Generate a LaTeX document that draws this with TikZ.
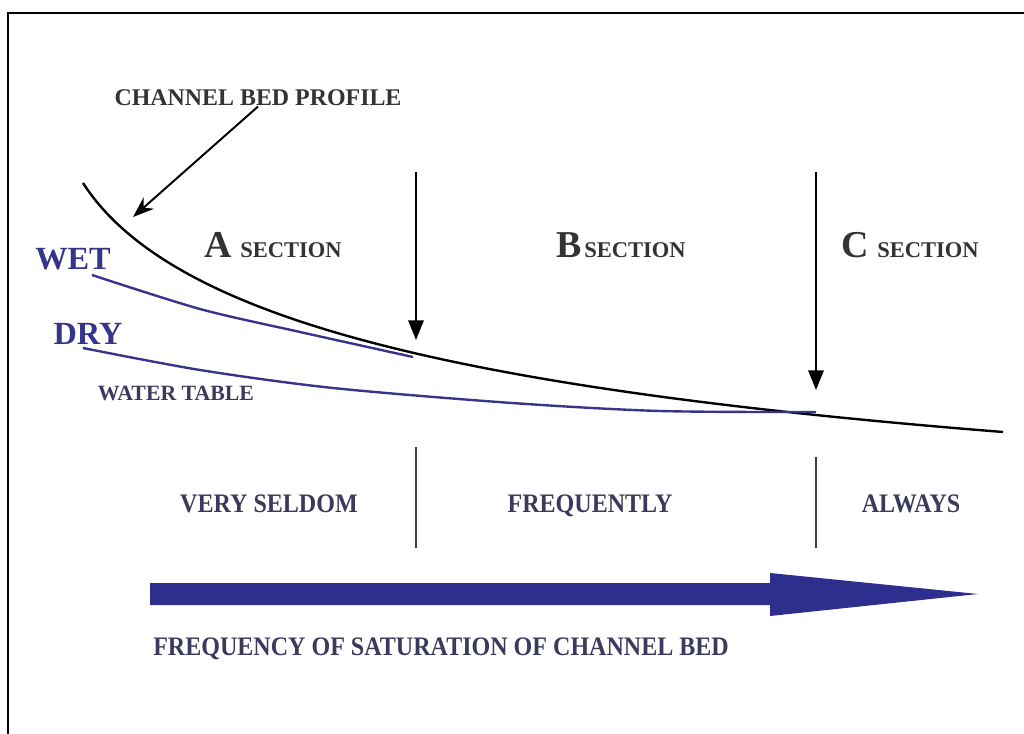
\documentclass[tikz,border=0pt]{standalone}
\usepackage{fontspec}
\setmainfont{Liberation Serif}
\newfontfamily\narrowfont[FakeStretch=0.9]{Liberation Serif}
\usetikzlibrary{arrows.meta,positioning}
\definecolor{ink}{HTML}{333333}
\definecolor{wt}{HTML}{35358A}
\definecolor{navy}{HTML}{2E2E8E}
\definecolor{slate}{HTML}{3A3A5C}
\newcommand{\sectlbl}[2]{{\fontsize{27}{27}\selectfont #1}\hspace{#2}{\fontsize{16}{16}\selectfont SECTION}}
\tikzset{
  lbl/.style={font=\bfseries,text=ink,inner sep=0pt,anchor=base},
  lowlbl/.style={lbl,text=slate,font=\narrowfont\bfseries\fontsize{19}{19}\selectfont},
  wdlbl/.style={lbl,text=wt,font=\bfseries\fontsize{23}{23}\selectfont},
  bed/.style={line width=1.7pt,draw=black},
  wline/.style={line width=1.7pt,draw=wt},
  dn/.style={-{Triangle[length=14pt,width=11pt]},line width=1.4pt},
  tick/.style={line width=1.5pt,draw=slate},
}

\begin{document}
\begin{tikzpicture}[x=0.025cm,y=-0.025cm]
\useasboundingbox (0,0) rectangle (1024,734);
% frame
\draw[line width=1.6pt] (8,734) -- (8,13) -- (1024,13);
% profiles
\draw[bed] (83,183) .. controls (170,318) and (450,388) .. (1003,432);
\draw[wline] plot[smooth] coordinates {(92,275) (200,309) (300,332) (413,357)};
\draw[wline] plot[smooth] coordinates {(83,348) (200,370) (333,388) (512,403) (660,411) (816,412)};
\node[wdlbl] (wet) at (73,270) {WET};
\node[wdlbl] (dry) at (88,345) {DRY};
\node[lbl,text=slate,font=\bfseries\fontsize{15.5}{15.5}\selectfont] (wtab) at (176,400) {WATER TABLE};
% channel bed label
\node[lbl,font=\bfseries\fontsize{17}{17}\selectfont] (cbp) at (258,106) {CHANNEL BED PROFILE};
\coordinate (cbptip) at (133,217);
\draw[dn,-{Stealth[length=15pt,width=11pt]}] (cbp.south) -- (cbptip);
% section limits
\coordinate (atop) at (416,172);
\coordinate (abot) at (416,340);
\coordinate (ctop) at (816,172);
\coordinate (cbot) at (816,390);
\draw[dn] (atop) -- (abot);
\draw[dn] (ctop) -- (cbot);
\node[lbl] (secA) at (273,258) {\sectlbl{A}{6pt}};
\node[lbl] (secB) at (621,258) {\sectlbl{B}{2pt}};
\node[lbl] (secC) at (910,258) {\sectlbl{C}{6pt}};
% saturation classes
\draw[tick] (416,447) -- (416,548);
\draw[tick] (816,457) -- (816,548);
\node[lowlbl] (seldom) at (269,512) {VERY SELDOM};
\node[lowlbl] (freqly) at (590,512) {FREQUENTLY};
\node[lowlbl] (always) at (911,512) {ALWAYS};
% big arrow
\fill[navy] (150,583) -- (770,583) -- (770,573) -- (978,594) -- (770,616) -- (770,605) -- (150,605) -- cycle;
\node[lowlbl,anchor=base west] (freq) at (153,655) {FREQUENCY OF SATURATION OF CHANNEL BED};
\end{tikzpicture}
\end{document}
